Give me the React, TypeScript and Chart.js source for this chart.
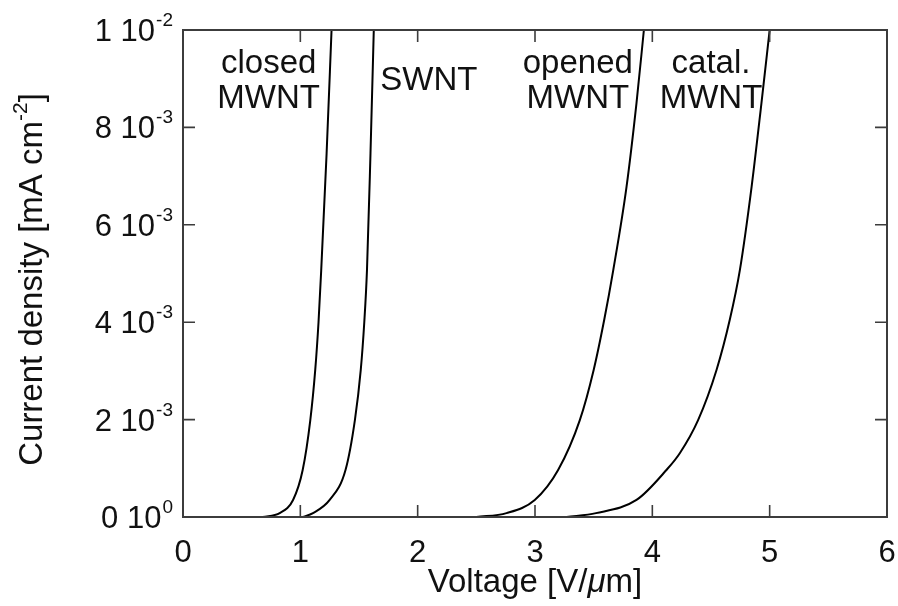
import { useEffect, useRef } from 'react';
import { Chart, registerables } from 'chart.js';

Chart.register(...registerables);

// Field-emission current density vs. applied field for four nanotube films
const closedX = [0, 0.16, 0.4, 0.68, 0.824, 0.938, 1.02, 1.085, 1.127, 1.155, 1.178, 1.224, 1.266];
const closedY = [0, 0, null, 0, 0.00008, 0.00035, 0.000965, 0.00199, 0.00302, 0.004, 0.00507, 0.00747, 0.01];

const swntX = [1.02, 1.108, 1.25, 1.385, 1.465, 1.515, 1.545, 1.568, 1.598, 1.626];
const swntY = [0, 0.00008, 0.00035, 0.000965, 0.00199, 0.00302, 0.004, 0.00507, 0.00747, 0.01];

const openedX = [2.5, 2.757, 2.998, 3.197, 3.382, 3.5, 3.59, 3.667, 3.78, 3.865, 3.928];
const openedY = [0, 0.00008, 0.00035, 0.000965, 0.00199, 0.00302, 0.00405, 0.00507, 0.00678, 0.0085, 0.01];

const catalX = [3.27, 3.52, 3.865, 4.12, 4.234, 4.39, 4.547, 4.66, 4.746, 4.846, 4.93, 5.0];
const catalY = [0, 0.00008, 0.00035, 0.000965, 0.00131, 0.00199, 0.00302, 0.00405, 0.00507, 0.00678, 0.0085, 0.01];

const xTicks = [0, 1, 2, 3, 4, 5, 6];
const xTickLabels = ['0', '1', '2', '3', '4', '5', '6'];
const yTicks = [0, 0.002, 0.004, 0.006, 0.008, 0.01];
const yTickMantissa = ['0', '2', '4', '6', '8', '1'];
const yTickExponent = ['0', '-3', '-3', '-3', '-3', '-2'];

const curveNames = ['closed MWNT', 'SWNT', 'opened MWNT', 'catal. MWNT'];

// In-plot curve labels: lines of text and their anchor in data units
const noteLines = [['closed', 'MWNT'], ['SWNT'], ['opened', 'MWNT'], ['catal.', 'MWNT']];
const noteX = [0.73, 2.095, 3.365, 4.5];
const noteY = [[0.00912, 0.0084], [0.00877], [0.00912, 0.0084], [0.00912, 0.0084]];

const FONT = '"Liberation Sans", Arial, Helvetica, sans-serif';
const BASE_PX = 31;
const SUP_PX = 19;
const TITLE_PX = 33;
const TITLE_SUP_PX = 21;
const NOTE_PX = 33;
const TICK_LEN = 12;

const toPoints = (xs: number[], ys: (number | null)[]) => xs.map((x, i) => ({ x, y: ys[i] }));

const framePlugin = {
  id: 'frameAndLabels',
  afterDraw(chart: any) {
    const { ctx, chartArea: a, scales } = chart;
    const sx = scales.x;
    const sy = scales.y;
    ctx.save();

    // frame
    ctx.strokeStyle = '#3c3c3c';
    ctx.lineWidth = 2;
    ctx.strokeRect(a.left, a.top, a.right - a.left, a.bottom - a.top);

    // inward ticks on all four sides
    ctx.lineWidth = 1.6;
    ctx.beginPath();
    xTicks.forEach((v) => {
      const px = sx.getPixelForValue(v);
      ctx.moveTo(px, a.bottom);
      ctx.lineTo(px, a.bottom - TICK_LEN);
      ctx.moveTo(px, a.top);
      ctx.lineTo(px, a.top + TICK_LEN);
    });
    yTicks.forEach((v) => {
      const py = sy.getPixelForValue(v);
      ctx.moveTo(a.left, py);
      ctx.lineTo(a.left + TICK_LEN, py);
      ctx.moveTo(a.right, py);
      ctx.lineTo(a.right - TICK_LEN, py);
    });
    ctx.stroke();

    ctx.fillStyle = '#111';
    ctx.textBaseline = 'alphabetic';

    // x tick labels
    ctx.font = `${BASE_PX}px ${FONT}`;
    ctx.textAlign = 'center';
    xTicks.forEach((v, i) => {
      ctx.fillText(xTickLabels[i], sx.getPixelForValue(v), a.bottom + 45);
    });

    // y tick labels with power-of-ten superscripts
    ctx.textAlign = 'left';
    yTicks.forEach((v, i) => {
      const py = sy.getPixelForValue(v);
      const base = `${yTickMantissa[i]} 10`;
      const sup = yTickExponent[i];
      ctx.font = `${BASE_PX}px ${FONT}`;
      const wb = ctx.measureText(base).width;
      ctx.font = `${SUP_PX}px ${FONT}`;
      const ws = ctx.measureText(sup).width;
      const x0 = a.left - 10 - wb - ws - 1;
      ctx.font = `${BASE_PX}px ${FONT}`;
      ctx.fillText(base, x0, py + 11);
      ctx.font = `${SUP_PX}px ${FONT}`;
      ctx.fillText(sup, x0 + wb + 1, py - 4);
    });

    // x axis title: Voltage [V/μm]
    const partsX = [
      { t: 'Voltage [V/', f: `${TITLE_PX}px ${FONT}` },
      { t: 'μ', f: `italic ${TITLE_PX}px ${FONT}` },
      { t: 'm]', f: `${TITLE_PX}px ${FONT}` },
    ];
    let total = 0;
    partsX.forEach((p) => { ctx.font = p.f; total += ctx.measureText(p.t).width; });
    let cx = (a.left + a.right) / 2 - total / 2;
    partsX.forEach((p) => {
      ctx.font = p.f;
      ctx.fillText(p.t, cx, a.bottom + 75);
      cx += ctx.measureText(p.t).width;
    });

    // y axis title: Current density [mA cm^-2]
    const partsY = [
      { t: 'Current density [mA cm', f: `${TITLE_PX}px ${FONT}`, dy: 0 },
      { t: '-2', f: `${TITLE_SUP_PX}px ${FONT}`, dy: -15 },
      { t: ']', f: `${TITLE_PX}px ${FONT}`, dy: 0 },
    ];
    let totalY = 0;
    partsY.forEach((p) => { ctx.font = p.f; totalY += ctx.measureText(p.t).width; });
    ctx.save();
    ctx.translate(42, (a.top + a.bottom) / 2 + 6);
    ctx.rotate(-Math.PI / 2);
    let cy = -totalY / 2;
    partsY.forEach((p) => {
      ctx.font = p.f;
      ctx.fillText(p.t, cy, p.dy);
      cy += ctx.measureText(p.t).width;
    });
    ctx.restore();

    // curve labels inside the plot
    ctx.font = `${NOTE_PX}px ${FONT}`;
    ctx.textAlign = 'center';
    noteLines.forEach((lines, i) => {
      lines.forEach((line, j) => {
        ctx.fillText(line, sx.getPixelForValue(noteX[i]), sy.getPixelForValue(noteY[i][j]));
      });
    });

    ctx.restore();
  },
};

export default function App() {
  const canvasRef = useRef<HTMLCanvasElement | null>(null);

  useEffect(() => {
    document.body.style.margin = '0';
    const canvas = canvasRef.current;
    if (!canvas) return;
    const series = [
      toPoints(closedX, closedY),
      toPoints(swntX, swntY),
      toPoints(openedX, openedY),
      toPoints(catalX, catalY),
    ];
    const chart = new Chart(canvas, {
      type: 'line',
      data: {
        datasets: series.map((data, i) => ({
          label: curveNames[i],
          data,
          borderColor: '#000',
          borderWidth: 2,
          pointRadius: 0,
          fill: false,
          cubicInterpolationMode: 'monotone' as const,
          spanGaps: false,
        })),
      },
      options: {
        animation: false,
        responsive: false,
        devicePixelRatio: 1,
        layout: { padding: { left: 183, right: 11, top: 30, bottom: 89 } },
        plugins: { legend: { display: false }, tooltip: { enabled: false } },
        scales: {
          x: { type: 'linear', min: 0, max: 6, display: false },
          y: { type: 'linear', min: 0, max: 0.01, display: false },
        },
      },
      plugins: [framePlugin],
    });
    return () => chart.destroy();
  }, []);

  return (
    <div style={{ width: 898, height: 606, background: '#fff' }}>
      <canvas ref={canvasRef} width={898} height={606} style={{ display: 'block', width: 898, height: 606 }} />
    </div>
  );
}
